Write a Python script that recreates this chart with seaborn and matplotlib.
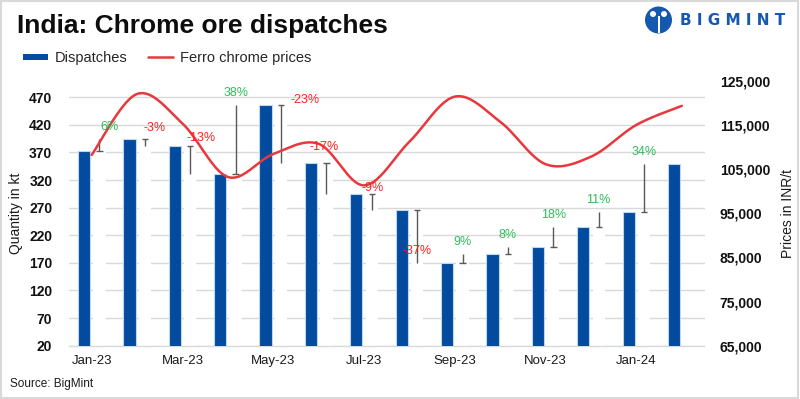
import numpy as np
import pandas as pd
import matplotlib
matplotlib.use("Agg")
import matplotlib.pyplot as plt
import seaborn as sns
from matplotlib.lines import Line2D
from matplotlib.patches import Rectangle, Ellipse

# ---------------- data ----------------
months = ["Jan-23", "Feb-23", "Mar-23", "Apr-23", "May-23", "Jun-23", "Jul-23",
          "Aug-23", "Sep-23", "Oct-23", "Nov-23", "Dec-23", "Jan-24", "Feb-24"]
dispatches = [372.7, 394.5, 382.3, 331.6, 456.6, 351.5, 294.3,
              266.4, 169.3, 185.6, 198.3, 234.5, 261.7, 348.6]
prices = [108200, 122000, 115300, 103200, 108400, 110700, 101300,
          111200, 121400, 115700, 106100, 107800, 115000, 119300]
changes = ["6%", "-3%", "-13%", "38%", "-23%", "-17%", "-9%",
           "-37%", "9%", "8%", "18%", "11%", "34%"]
left_ticks = [20, 70, 120, 170, 220, 270, 320, 370, 420, 470]
right_ticks = [65000, 75000, 85000, 95000, 105000, 115000, 125000]
tick_labels = months[::2]

# label placement offsets (pixels) relative to top of each connector
label_offsets = [(10, 12), (10, 11), (11, 8), (0, 12), (24, 5), (-2, 16), (1, 6),
                 (0, -41), (0, 12), (0, 12), (0, 12), (0, 12), (0, 12)]

BLUE = "#024B9F"
EDGE = "#BDD7EE"
RED = "#E8383D"
GREEN = "#2EBD59"
LRED = "#FF1F1F"
GRID = "#D9D9D9"

sns.set_theme(style="white")
plt.rcParams["font.family"] = ["Liberation Sans", "DejaVu Sans"]

fig = plt.figure(figsize=(8, 3.99), dpi=100)
W, H = 800, 399
ax = fig.add_axes([69 / W, 1 - 345.7 / H, (704.5 - 69) / W, (345.7 - 80.7) / H])

n = len(months)
idx = np.arange(n)
off = 0.17

bar_df = pd.DataFrame({"pos": idx - off, "Dispatches": dispatches})
sns.barplot(data=bar_df, x="pos", y="Dispatches", native_scale=True, orient="x",
            width=0.27, color=BLUE, edgecolor=EDGE, linewidth=0.8,
            saturation=1, errorbar=None, ax=ax, zorder=3)

# invisible helper bars (hide grid behind connectors)
help_df = pd.DataFrame({"pos": idx[:-1] + off, "val": dispatches[:-1]})
sns.barplot(data=help_df, x="pos", y="val", native_scale=True, orient="x",
            width=0.27, color="white", linewidth=0, saturation=1,
            errorbar=None, ax=ax, zorder=2)

# connectors between consecutive months
xe = idx[:-1] + off
cur = np.array(dispatches[:-1])
nxt = np.array(dispatches[1:])
ax.vlines(xe, cur, nxt, color="#595959", lw=1, zorder=4)
ax.hlines(cur, xe - 0.07, xe + 0.07, color="#595959", lw=1, zorder=4)

ax.set_ylim(20, 500)
ax.set_yticks(left_ticks)
ax.set_yticklabels([str(v) for v in left_ticks], fontweight="bold", fontsize=10)
ax.yaxis.grid(True, color=GRID, lw=1)
ax.set_axisbelow(True)
ax.set_xlim(-0.5, n - 0.5)
ax.set_xticks(np.arange(-0.5, n, 2))
ax.set_xticklabels([])
ax.set_xticks(idx[::2], minor=True)
ax.set_xticklabels(tick_labels, minor=True, fontsize=9.5)
ax.tick_params(axis="x", which="major", length=5, color="#BFBFBF", width=1)
ax.tick_params(axis="x", which="minor", length=0, pad=7, colors="#1a1a1a")
ax.tick_params(axis="y", length=0, pad=12, colors="#111111")
ax.set_xlabel("")
ax.set_ylabel("")
for s in ["top", "left", "right"]:
    ax.spines[s].set_visible(False)
ax.spines["bottom"].set_color(GRID)
ax.spines["bottom"].set_linewidth(1)

# ---------------- price line (smoothed) ----------------
ax2 = ax.twinx()
px = np.array(idx, dtype=float)
py = np.array(prices, dtype=float)
P = np.column_stack([px, py])
Pe = np.vstack([P[0], P, P[-1]])
segs = []
t = np.linspace(0, 1, 25, endpoint=False)[:, None]
for k in range(1, len(Pe) - 2):
    p0, p1, p2, p3 = Pe[k - 1], Pe[k], Pe[k + 1], Pe[k + 2]
    c = 0.5 * ((2 * p1) + (-p0 + p2) * t + (2 * p0 - 5 * p1 + 4 * p2 - p3) * t ** 2
               + (-p0 + 3 * p1 - 3 * p2 + p3) * t ** 3)
    segs.append(c)
segs.append(P[-1][None, :])
curve = np.vstack(segs)
sns.lineplot(x=curve[:, 0], y=curve[:, 1], ax=ax2, color=RED, lw=1.8,
             estimator=None, sort=False)
ax2.set_ylim(65000, 125000)
ax2.set_yticks(right_ticks)
ax2.set_yticklabels([f"{v:,.0f}" for v in right_ticks], fontweight="bold", fontsize=10)
ax2.tick_params(axis="y", length=0, pad=11, colors="#111111")
ax2.set_ylabel("")
ax2.set_xlim(-0.5, n - 0.5)
for s in ["top", "left", "right", "bottom"]:
    ax2.spines[s].set_visible(False)
ax2.grid(False)

# ---------------- percentage labels ----------------
for i, lab in enumerate(changes):
    top = max(dispatches[i], dispatches[i + 1])
    dx, dy = label_offsets[i]
    col = LRED if lab.startswith("-") else GREEN
    ax2.annotate(lab, xy=(i + off, top), xycoords=ax.transData,
                 xytext=(dx, dy), textcoords="offset pixels",
                 ha="center", va="center", color=col, fontsize=9, zorder=6)

# ---------------- texts ----------------
fig.text(17 / W, 1 - 33.3 / H, "India: Chrome ore dispatches", fontsize=19,
         fontweight="bold", va="baseline", ha="left", color="#0D0D0D")
fig.text(16 / W, 1 - 213 / H, "Quantity in kt", rotation=90, va="center",
         ha="center", fontsize=10, color="#1a1a1a")
fig.text(787.5 / W, 1 - 213 / H, "Prices in INR/t", rotation=90, va="center",
         ha="center", fontsize=10, color="#1a1a1a")
fig.text(10 / W, 1 - 383.5 / H, "Source: BigMint", fontsize=8.5, va="center",
         ha="left", color="#1a1a1a")

handles = [Line2D([0], [0], color=BLUE, lw=4.3, solid_capstyle="butt"),
           Line2D([0], [0], color=RED, lw=1.8)]
fig.legend(handles, ["Dispatches", "Ferro chrome prices"], loc="center left",
           bbox_to_anchor=(23 / W, 1 - 58 / H), ncol=2, frameon=False,
           fontsize=10.5, handlelength=1.71, handletextpad=0.48,
           columnspacing=1.37, borderpad=0, borderaxespad=0)

# logo
fig.text(680 / W, 1 - 20.5 / H, "B I G M I N T", color="#1558B0", fontsize=11,
         fontweight="bold", family="DejaVu Sans", va="center", ha="left")
fig.patches.append(Ellipse((658.5 / W, 1 - 20 / H), 27 / W, 27 / H,
                           transform=fig.transFigure, facecolor="#1558B0",
                           edgecolor="none"))
for cx in (653, 664):
    fig.patches.append(Ellipse((cx / W, 1 - 14 / H), 6 / W, 6 / H,
                               transform=fig.transFigure, facecolor="white",
                               edgecolor="none"))
fig.patches.append(Rectangle((657.5 / W, 1 - 33 / H), 2 / W, 17 / H,
                             transform=fig.transFigure, facecolor="white",
                             edgecolor="none"))

# border
fig.patches.append(Rectangle((0.001, 0.002), 0.997, 0.995, transform=fig.transFigure,
                             facecolor="none", edgecolor="#D9D9D9", lw=1.5))

fig.savefig("out.png", dpi=100)
